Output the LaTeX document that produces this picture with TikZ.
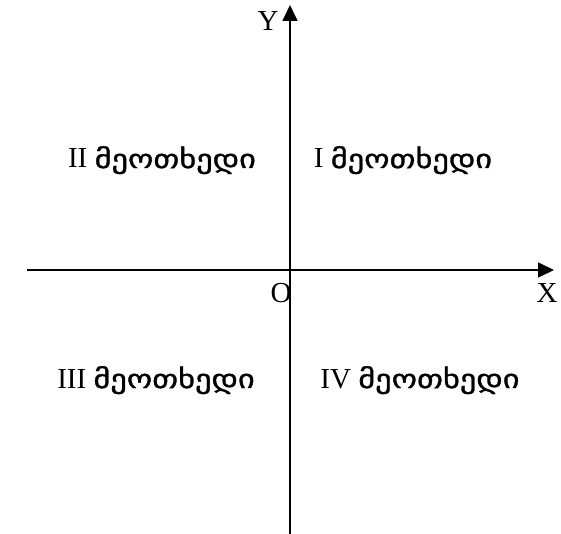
\documentclass[tikz,border=0pt]{standalone}
\usepackage{fontspec}
\setmainfont{Liberation Serif}
\newfontfamily\geofont[Script=Georgian,FakeStretch=1.24,FakeBold=1.2,Scale=0.9]{DejaVu Sans}
\usetikzlibrary{arrows.meta,positioning,calc}

\begin{document}
\begin{tikzpicture}[x=1pt,y=-1pt,
  axis/.style={line width=1.6pt,-{Triangle[length=16pt,width=15pt]}},
  lbl/.style={font=\fontsize{29}{32}\selectfont,inner sep=0pt},
  quad/.style={font=\fontsize{29}{32}\selectfont,inner sep=0pt,anchor=base}]
  \useasboundingbox (0,0) rectangle (561,534);
  \coordinate (xl) at (27,270);
  \coordinate (xr) at (554,270);
  \coordinate (yb) at (290,534);
  \coordinate (yt) at (290,5);
  \draw[axis] (xl) -- (xr);
  \draw[axis] (yb) -- (yt);
  \node[lbl] (ylab) at (268,21) {Y};
  \node[lbl] (xlab) at (547,293) {X};
  \node[lbl] (olab) at (281,293) {O};
  \node[quad] (q2) at (162,168) {II {\geofont მეოთხედი}};
  \node[quad] (q1) at (403,168) {I {\geofont მეოთხედი}};
  \node[quad] (q3) at (156,388) {III {\geofont მეოთხედი}};
  \node[quad] (q4) at (420,388) {IV {\geofont მეოთხედი}};
\end{tikzpicture}
\end{document}
